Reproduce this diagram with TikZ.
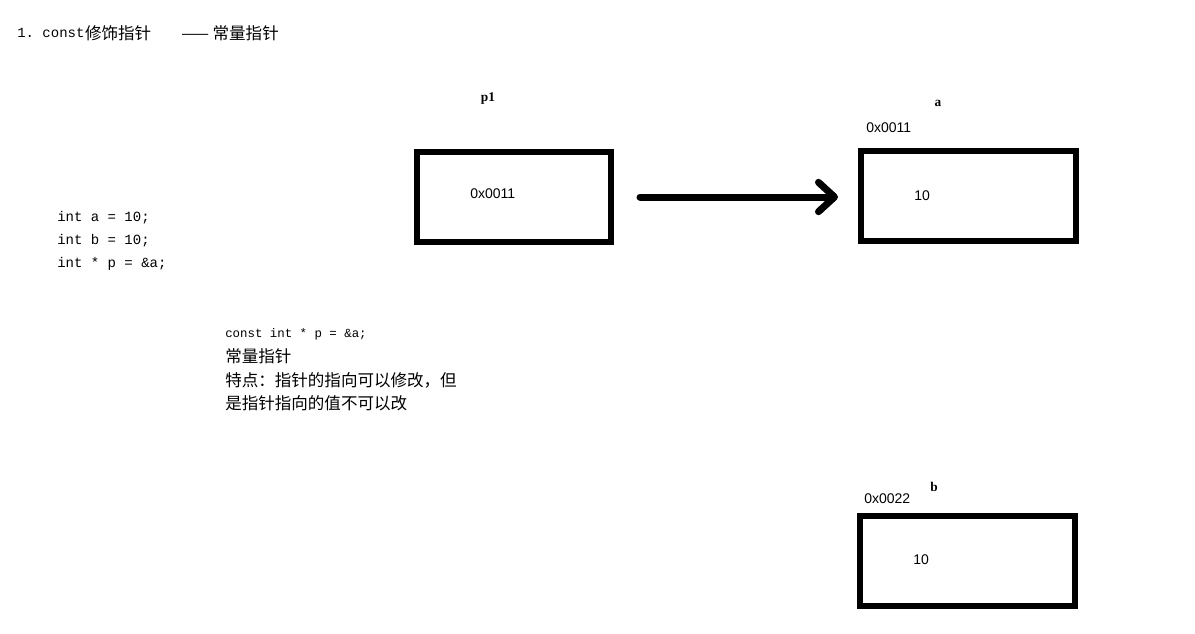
\documentclass[tikz,border=0pt]{standalone}
\usepackage{fontspec}
\setmainfont{Liberation Sans}
\newfontfamily\cjk{Noto Sans CJK SC}
\newfontfamily\codefont{Liberation Mono}
\newfontfamily\serifcode{Liberation Serif}
\usetikzlibrary{arrows.meta}
\begin{document}
\begin{tikzpicture}[x=0.75pt,y=-0.75pt,
  membox/.style={draw=black,line width=4.5pt,minimum width=145.5pt,minimum height=67.5pt,inner sep=0pt},
  codetxt/.style={anchor=west,inner sep=0pt,font=\codefont\fontsize{10.5pt}{12pt}\selectfont},
  cjktxt/.style={anchor=west,inner sep=0pt,font=\cjk\fontsize{12.4pt}{14pt}\selectfont},
  valtxt/.style={anchor=west,inner sep=0pt,font=\fontsize{10.5pt}{12pt}\selectfont},
  nametxt/.style={inner sep=0pt,font=\serifcode\bfseries\fontsize{10pt}{12pt}\selectfont},
  ptr/.style={line width=5.25pt,line cap=round,shorten <=19.5pt,shorten >=15pt,-{Straight Barb[length=12pt,width=22pt,line cap=round,line join=round]}}]
\useasboundingbox[fill=white] (0,0) rectangle (1195,633);

% title
\node[codetxt] (t1) at (17,33) {1.\ const};
\node[cjktxt] (t2) at (t1.east) {修饰指针};
\node[cjktxt] (t3) at (181,33) {—— 常量指针};

% code
\node[codetxt] (c1) at (57,218) {int a = 10;};
\node[codetxt] (c2) at (57,241) {int b = 10;};
\node[codetxt] (c3) at (57,264) {int * p = \&a;};

% explanation
\node[codetxt,font=\codefont\fontsize{9.3pt}{11pt}\selectfont] (e1) at (225,334) {const int * p = \&a;};
\node[cjktxt] (e2) at (225,356) {常量指针};
\node[cjktxt] (e3) at (225,380) {特点：指针的指向可以修改，但};
\node[cjktxt] (e4) at (225,403) {是指针指向的值不可以改};

% p1 box
\node[nametxt] (np) at (488,99) {p1};
\node[membox] (bp) at (514,197) {};
\node[valtxt] (vp) at (470,194) {0x0011};

% a box
\node[nametxt] (na) at (938,103) {a};
\node[valtxt] (aa) at (866,128) {0x0011};
\node[membox,minimum width=161.25pt] (ba) at (968.5,196) {};
\node[valtxt] (va) at (914,196) {10};

% b box
\node[nametxt] (nb) at (934,487) {b};
\node[valtxt] (ab) at (864,499) {0x0022};
\node[membox,minimum width=161.25pt] (bb) at (967.5,561) {};
\node[valtxt] (vb) at (913,560) {10};

% pointer arrow
\draw[ptr] (bp.east) -- (bp.east -| ba.west);
\end{tikzpicture}
\end{document}
